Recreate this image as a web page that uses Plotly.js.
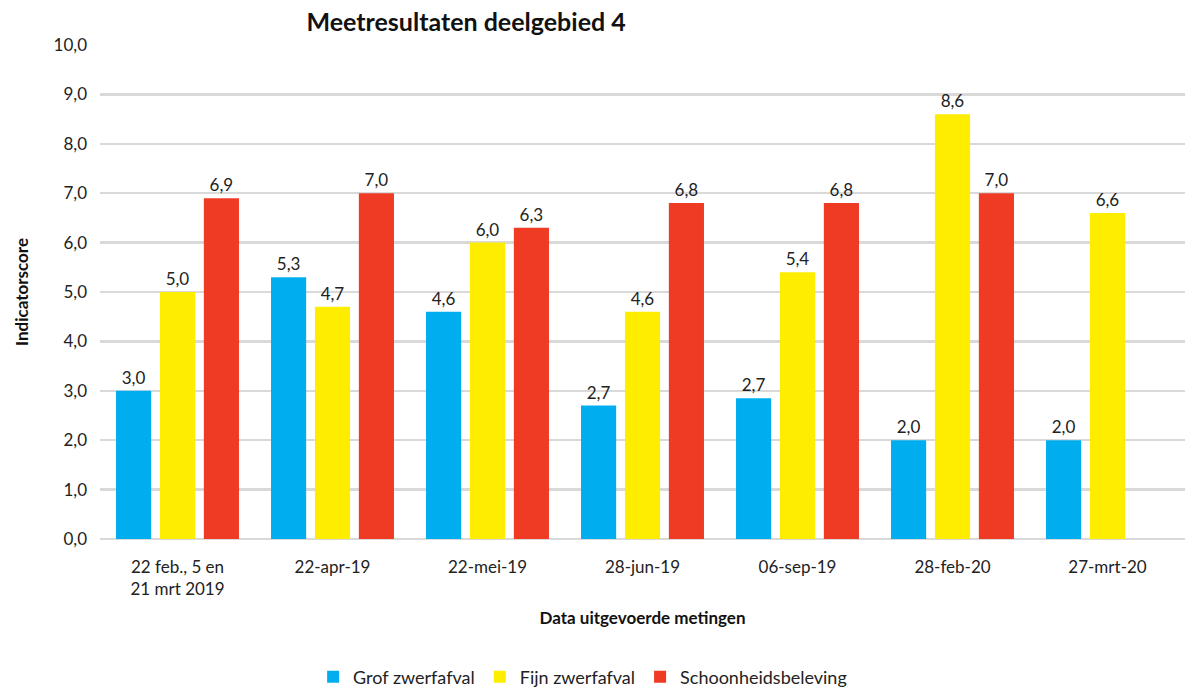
<!DOCTYPE html>
<html>
<head>
<meta charset="utf-8">
<script src="https://cdn.plot.ly/plotly-3.0.1.min.js"></script>
<style>html,body{margin:0;padding:0;background:#fff;}#chart{width:1189px;height:687px;}</style>
</head>
<body>
<div id="chart"></div>
<script>
const categories = ["22 feb., 5 en<br>21 mrt 2019", "22-apr-19", "22-mei-19", "28-jun-19", "06-sep-19", "28-feb-20", "27-mrt-20"];
const grofValues = [3.0, 5.3, 4.6, 2.7, 2.85, 2.0, 2.0];
const grofLabels = ["3,0", "5,3", "4,6", "2,7", "2,7", "2,0", "2,0"];
const fijnValues = [5.0, 4.7, 6.0, 4.6, 5.4, 8.6, 6.6];
const fijnLabels = ["5,0", "4,7", "6,0", "4,6", "5,4", "8,6", "6,6"];
const schoonValues = [6.9, 7.0, 6.3, 6.8, 6.8, 7.0, null];
const schoonLabels = ["6,9", "7,0", "6,3", "6,8", "6,8", "7,0", ""];
const yTicks = [0, 1, 2, 3, 4, 5, 6, 7, 8, 9, 10];

const FONT = "Lato, 'Open Sans', sans-serif";
function series(name, values, labels, color) {
  return {
    type: "bar", name: name, x: categories, y: values,
    text: labels, textposition: "outside", cliponaxis: false, constraintext: "none",
    textfont: {family: FONT, size: 17, color: "#222"},
    marker: {color: color}, hoverinfo: "none"
  };
}
const data = [
  series("Grof zwerfafval", grofValues, grofLabels, "#00AEEF"),
  series("Fijn zwerfafval", fijnValues, fijnLabels, "#FFED00"),
  series("Schoonheidsbeleving", schoonValues, schoonLabels, "#EF3A24")
];
const layout = {
  width: 1189, height: 687,
  margin: {l: 100, r: 4, t: 45, b: 148},
  paper_bgcolor: "#fff", plot_bgcolor: "#fff",
  separators: ",.",
  font: {family: FONT, size: 17, color: "#222"},
  barmode: "group", bargap: 0.15, bargroupgap: 0.2,
  showlegend: true,
  title: {text: "<b>Meetresultaten deelgebied 4</b>", font: {family: FONT, size: 25, color: "#111"},
          x: 0.392, xref: "container", xanchor: "center", y: 0.967, yref: "container", yanchor: "middle"},
  xaxis: {
    tickfont: {family: FONT, size: 17, color: "#222"}, showgrid: false, zeroline: false,
    showline: false, ticks: "", ticklabelstandoff: 16,
    title: {text: "<b>Data uitgevoerde metingen</b>", font: {family: FONT, size: 17, color: "#111"}, standoff: 14}
  },
  yaxis: {
    range: [0, 10], tickvals: yTicks, tickformat: ".1f",
    tickfont: {family: FONT, size: 17, color: "#222"},
    showgrid: true, gridcolor: "#d9d9d9", gridwidth: 2.5, zeroline: true, zerolinecolor: "#d9d9d9", zerolinewidth: 2.5,
    showline: false, ticks: "", ticklabelstandoff: 12,
    title: {text: "<b>Indicatorscore</b>", font: {family: FONT, size: 17, color: "#111"}, standoff: 20}
  },
  legend: {orientation: "h", x: 0.49, xref: "container", xanchor: "center", y: 0.0146, yref: "container", yanchor: "middle",
           font: {family: FONT, size: 18, color: "#222"}, itemwidth: 30, tracegroupgap: 0}
};
Plotly.newPlot("chart", data, layout, {displayModeBar: false, staticPlot: true});
</script>
</body>
</html>
